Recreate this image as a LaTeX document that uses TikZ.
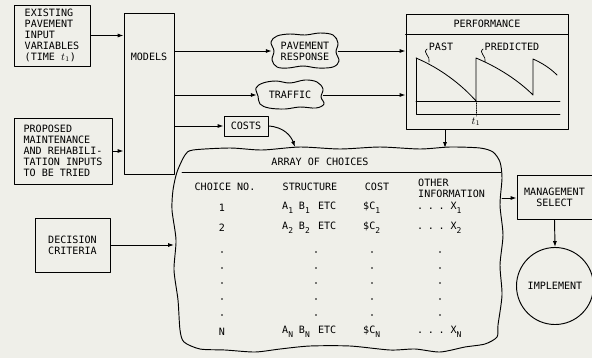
\documentclass[tikz,border=0pt]{standalone}
\usepackage{fontspec}
\setmainfont{DejaVu Sans Mono}
\usetikzlibrary{arrows.meta,shapes.geometric}
\definecolor{paper}{RGB}{239,239,233}
\newcommand\lowidx[1]{\raisebox{-3.5pt}{\fontsize{6.8}{7}\selectfont#1}}
\newcommand\structrow[1]{A\lowidx{#1}\hspace{5pt}B\lowidx{#1}\hspace{7pt}ETC}
\newcommand\otherrow[1]{.\hspace{4pt}.\hspace{4pt}.\hspace{5pt}X\lowidx{#1}}

\begin{document}
\begin{tikzpicture}[
  x=0.03cm, y=-0.03cm,
  line cap=round,
  line join=round,
  >={Latex[length=5pt,width=3.4pt]},
  every node/.style={font=\fontsize{8.6}{9.4}\selectfont, inner sep=0pt},
  box/.style={draw=black,line width=0.8pt},
  outline/.style={draw=black,line width=0.8pt},
  flow/.style={draw=black,line width=0.8pt,->}
]
\fill[paper] (0,0) rectangle (592,358);
\useasboundingbox (0,0) rectangle (592,358);

% Inputs and models
\node[box,minimum width=2.28cm,minimum height=1.83cm,align=left] (exist) at (52,35.5)
  {EXISTING\\PAVEMENT\\INPUT\\VARIABLES\\(TIME $t_{1}$)};
\node[box,minimum width=2.94cm,minimum height=1.98cm,align=left] (proposed) at (63,151)
  {PROPOSED\\MAINTENANCE\\AND REHABILI-\\TATION INPUTS\\TO BE TRIED};
\node[box,minimum width=1.5cm,minimum height=4.83cm] (models) at (149,93.5) {};
\node (modelslbl) at (149,57) {MODELS};
\node[box,minimum width=2.25cm,minimum height=1.62cm,align=center] (decision) at (72.5,245)
  {DECISION\\CRITERIA};
\draw[flow] (exist.east) -- (exist.east -| models.west);
\draw[flow] (proposed.east) -- (proposed.east -| models.west);

% Model outputs (hand drawn clouds)
\node[minimum width=1.98cm,minimum height=1.02cm,align=center] (pav) at (305,51)
  {PAVEMENT\\RESPONSE};
\draw[outline] plot[smooth cycle,tension=0.6] coordinates {
  (277,36) (290,34) (305,35) (320,33) (333,35) (338,43) (336,52) (339,61)
  (333,67) (318,68) (303,66) (288,68) (277,67) (272,60) (274,51) (271,42)};
\node[minimum width=1.98cm,minimum height=0.84cm] (traffic) at (290,95) {TRAFFIC};
\draw[outline] plot[smooth cycle,tension=0.6] coordinates {
  (263,83) (276,81) (290,83) (305,80) (317,82) (323,89) (321,97) (324,104)
  (316,108) (300,107) (285,109) (269,108) (260,104) (258,96) (256,88)};
\node[box,minimum width=1.32cm,minimum height=0.6cm] (costs) at (246,126) {COSTS};
\draw[flow] (models.east |- pav.west) -- (pav.west);
\draw[flow] (models.east |- traffic.west) -- (traffic.west);
\draw[flow] (models.east |- costs.west) -- (costs.west);

% Performance plot
\node[box,minimum width=4.86cm,minimum height=3.45cm] (perf) at (487,71.5) {};
\node (perftitle) at (487,24) {PERFORMANCE};
\draw[line width=0.8pt] (perf.west |- 0,34) -- (perf.east |- 0,34);
\draw[line width=0.7pt] (416,58) -- (416,114) -- (560,114);
\draw[line width=0.7pt] (416,101) -- (560,101);
\draw[line width=0.7pt] (416,58) .. controls (440,68) and (462,85) .. (476,101)
  -- (476,58) .. controls (500,68) and (520,82) .. (533,95)
  -- (533,59) .. controls (542,63) and (550,68) .. (557,75);
\draw[line width=0.6pt,densely dotted] (476,101) -- (476,116);
\node (tone) at (476,122) {$t_{1}$};
\node (past) at (441,47) {PAST};
\node (pred) at (512,47) {PREDICTED};
\draw[line width=0.6pt] (427,49) .. controls (422,53) and (431,56) .. (429,62);
\draw[line width=0.6pt] (483,49) .. controls (478,53) and (487,56) .. (485,62);
\draw[flow] (pav.east) -- (pav.east -| perf.west);
\draw[flow] (traffic.east) -- (traffic.east -| perf.west);

% Array of choices
\draw[outline] plot[smooth cycle,tension=0.45] coordinates {
  (193,150) (230,148) (262,150) (300,147) (340,149) (380,147) (420,149) (450,147)
  (480,148) (493,152) (500,162) (502,178) (500,205) (503,235) (500,265) (502,295)
  (498,325) (497,337) (485,344) (465,347) (440,352) (415,349) (390,350) (350,346)
  (310,346) (280,349) (255,352) (225,350) (200,349) (184,342) (180,330) (178,300)
  (174,270) (176,240) (172,210) (173,190) (177,172) (185,155)};
\draw[line width=0.8pt] (182,172) -- (501,172);
\coordinate (arrL) at (174,245);
\coordinate (arrT) at (445,148);
\coordinate (arrC) at (295,147);
\coordinate (arrR) at (502,198);
\node (arrtitle) at (320,162) {ARRAY OF CHOICES};
\node (hchoice) at (225,187) {CHOICE NO.};
\node (hstruct) at (310,187) {STRUCTURE};
\node (hcost) at (377,187) {COST};
\node[anchor=west,align=left] (hother) at (418,188) {OTHER\\INFORMATION};
\node (c1) at (222,208) {1};
\node[anchor=west] (s1) at (282,208) {\structrow{1}};
\node[anchor=west] (k1) at (363,208) {\$C\lowidx{1}};
\node[anchor=west] (o1) at (417,208) {\otherrow{1}};
\node (c2) at (222,228) {2};
\node[anchor=west] (s2) at (282,228) {\structrow{2}};
\node[anchor=west] (k2) at (363,228) {\$C\lowidx{2}};
\node[anchor=west] (o2) at (417,228) {\otherrow{2}};
\foreach \y in {252,268,283,299,315}
  \foreach \x in {222,316,372,440}
    \fill (\x,\y) circle (0.75pt);
\node (cn) at (222,332) {N};
\node[anchor=west] (sn) at (282,332) {\structrow{N}};
\node[anchor=west] (kn) at (363,332) {\$C\lowidx{N}};
\node[anchor=west] (on) at (417,332) {\otherrow{N}};
\draw[flow] (decision.east) -- (arrL);
\draw[flow] (perf.south -| arrT) -- (arrT);
\draw[flow] (costs.east) .. controls (284,127) and (291,136) .. (arrC);

% Selection
\node[box,minimum width=2.25cm,minimum height=1.32cm,align=center] (mgmt) at (554.5,197)
  {MANAGEMENT\\SELECT};
\node[box,circle,minimum size=2.31cm] (impl) at (555,286) {IMPLEMENT};
\draw[flow] (arrR) -- (arrR -| mgmt.west);
\draw[flow] (mgmt.south) -- (impl.north);

\end{tikzpicture}
\end{document}
